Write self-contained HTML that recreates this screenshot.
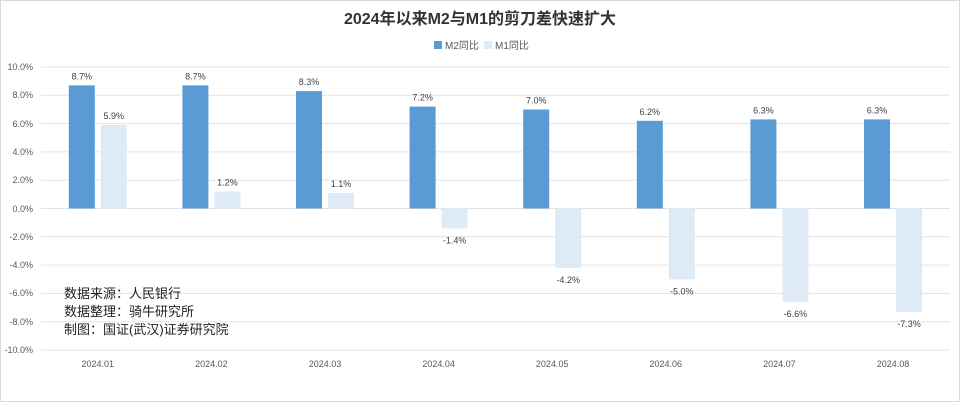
<!DOCTYPE html>
<html><head><meta charset="utf-8"><style>
body{margin:0;background:#fff}
svg{display:block}
text{font-family:"Liberation Sans","Noto Sans CJK SC",sans-serif}
</style></head><body>
<svg width="960" height="402" viewBox="0 0 960 402">
<rect x="0.5" y="0.5" width="959" height="401" fill="#fff" stroke="#d9d9d9"/>
<text x="480" y="24" text-anchor="middle" font-size="16" font-weight="bold" fill="#333">2024年以来M2与M1的剪刀差快速扩大</text>
<rect x="434" y="41" width="8" height="8" fill="#5b9bd5"/>
<text x="445" y="49" font-size="10" fill="#595959">M2同比</text>
<rect x="484" y="41" width="8" height="8" fill="#deebf7"/>
<text x="495" y="49" font-size="10" fill="#595959">M1同比</text>
<g stroke="#e3e3e3" stroke-width="1">
<line x1="41" x2="950" y1="67" y2="67"/><line x1="41" x2="950" y1="95.3" y2="95.3"/>
<line x1="41" x2="950" y1="123.6" y2="123.6"/><line x1="41" x2="950" y1="151.9" y2="151.9"/>
<line x1="41" x2="950" y1="180.2" y2="180.2"/><line x1="41" x2="950" y1="208.5" y2="208.5"/>
<line x1="41" x2="950" y1="236.8" y2="236.8"/><line x1="41" x2="950" y1="265.1" y2="265.1"/>
<line x1="41" x2="950" y1="293.4" y2="293.4"/><line x1="41" x2="950" y1="321.7" y2="321.7"/>
<line x1="41" x2="950" y1="350" y2="350"/>
</g>
<g font-size="9" fill="#595959" text-anchor="end">
<text x="33" y="70">10.0%</text><text x="33" y="98">8.0%</text><text x="33" y="127">6.0%</text>
<text x="33" y="155">4.0%</text><text x="33" y="183">2.0%</text><text x="33" y="212">0.0%</text>
<text x="33" y="240">-2.0%</text><text x="33" y="268">-4.0%</text><text x="33" y="296">-6.0%</text>
<text x="33" y="325">-8.0%</text><text x="33" y="353">-10.0%</text>
</g>
<g fill="#5b9bd5">
<rect x="68.8" y="85.4" width="26" height="123.1"/>
<rect x="182.4" y="85.4" width="26" height="123.1"/>
<rect x="296" y="91.1" width="26" height="117.4"/>
<rect x="409.6" y="106.6" width="26" height="101.9"/>
<rect x="523.2" y="109.5" width="26" height="99"/>
<rect x="636.8" y="120.8" width="26" height="87.7"/>
<rect x="750.4" y="119.4" width="26" height="89.1"/>
<rect x="864" y="119.4" width="26" height="89.1"/>
</g>
<g fill="#deebf7">
<rect x="100.8" y="125" width="26" height="83.5"/>
<rect x="214.4" y="191.5" width="26" height="17"/>
<rect x="328" y="192.9" width="26" height="15.6"/>
<rect x="441.6" y="208.5" width="26" height="19.8"/>
<rect x="555.2" y="208.5" width="26" height="59.4"/>
<rect x="668.8" y="208.5" width="26" height="70.8"/>
<rect x="782.4" y="208.5" width="26" height="93.4"/>
<rect x="896" y="208.5" width="26" height="103.3"/>
</g>
<g font-size="9" fill="#404040" text-anchor="middle">
<text x="81.8" y="79.4">8.7%</text>
<text x="195.4" y="79.4">8.7%</text>
<text x="309" y="85.1">8.3%</text>
<text x="422.6" y="100.6">7.2%</text>
<text x="536.2" y="103.5">7.0%</text>
<text x="649.8" y="114.8">6.2%</text>
<text x="763.4" y="113.4">6.3%</text>
<text x="877" y="113.4">6.3%</text>
<text x="113.8" y="119">5.9%</text>
<text x="227.4" y="185.5">1.2%</text>
<text x="341" y="186.9">1.1%</text>
<text x="454.6" y="243.3">-1.4%</text>
<text x="568.2" y="282.9">-4.2%</text>
<text x="681.8" y="294.3">-5.0%</text>
<text x="795.4" y="316.9">-6.6%</text>
<text x="909" y="326.8">-7.3%</text>
</g>
<g font-size="9" fill="#595959" text-anchor="middle">
<text x="97.8" y="367">2024.01</text>
<text x="211.4" y="367">2024.02</text>
<text x="325" y="367">2024.03</text>
<text x="438.6" y="367">2024.04</text>
<text x="552.2" y="367">2024.05</text>
<text x="665.8" y="367">2024.06</text>
<text x="779.4" y="367">2024.07</text>
<text x="893" y="367">2024.08</text>
</g>
<g font-size="13" fill="#222">
<text x="64" y="298">数据来源：人民银行</text>
<text x="64" y="316">数据整理：骑牛研究所</text>
<text x="64" y="334">制图：国证(武汉)证券研究院</text>
</g>
</svg>
</body></html>
